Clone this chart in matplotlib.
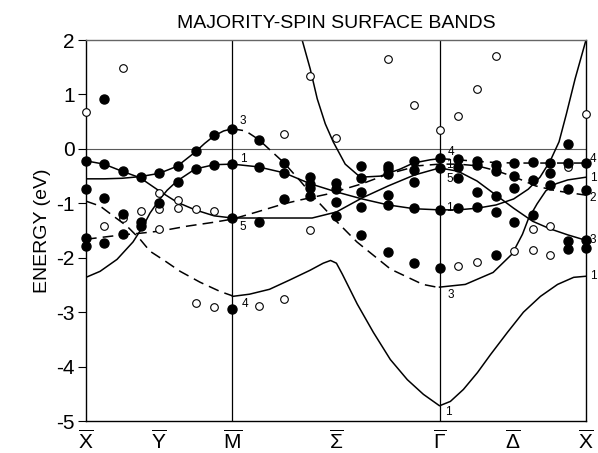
import numpy as np
import matplotlib.pyplot as plt

plt.rcParams['font.family'] = ['Liberation Sans', 'DejaVu Sans']
plt.rcParams['axes.unicode_minus'] = False
plt.rcParams['mathtext.fontset'] = 'custom'
plt.rcParams['mathtext.rm'] = 'Liberation Sans'
plt.rcParams['mathtext.it'] = 'Liberation Sans'

# symmetry points along the path X - M - Gamma - X  (X-M = 1, M-Gamma = sqrt2)
sym_pos = [0.0, 0.5, 1.0, 1.707, 2.414, 2.914, 3.414]
sym_lab = [r'$\overline{\mathrm{X}}$', r'$\overline{\mathrm{Y}}$', r'$\overline{\mathrm{M}}$',
           r'$\overline{\Sigma}$', r'$\overline{\Gamma}$', r'$\overline{\Delta}$',
           r'$\overline{\mathrm{X}}$']

# measured points (filled dots)
fk = [0, 0, 0, 0,
      0.125, 0.125, 0.125, 0.125,
      0.25, 0.25, 0.25,
      0.375, 0.375, 0.375,
      0.5, 0.5,
      0.625, 0.625,
      0.75, 0.75,
      0.875, 0.875,
      1.0, 1.0, 1.0, 1.0,
      1.18, 1.18, 1.18,
      1.35, 1.35, 1.35,
      1.53, 1.53, 1.53, 1.53,
      1.71, 1.71, 1.71, 1.71,
      1.88, 1.88, 1.88, 1.88, 1.88,
      2.06, 2.06, 2.06, 2.06, 2.06, 2.06,
      2.24, 2.24, 2.24, 2.24, 2.24,
      2.414, 2.414, 2.414, 2.414,
      2.54, 2.54, 2.54, 2.54,
      2.67, 2.67, 2.67, 2.67,
      2.80, 2.80, 2.80, 2.80, 2.80,
      2.92, 2.92, 2.92, 2.92,
      3.05, 3.05, 3.05,
      3.17, 3.17, 3.17,
      3.29, 3.29, 3.29, 3.29, 3.29,
      3.414, 3.414, 3.414, 3.414]
fE = [-0.22, -0.73, -1.64, -1.79,
      0.92, -0.28, -0.90, -1.73,
      -0.41, -1.19, -1.57,
      -0.51, -1.34, -1.41,
      -0.45, -0.99,
      -0.32, -0.60,
      -0.03, -0.37,
      0.26, -0.29,
      0.37, -0.27, -1.27, -2.95,
      0.17, -0.34, -1.35,
      -0.25, -0.44, -0.92,
      -0.51, -0.65, -0.72, -0.87,
      -0.63, -0.74, -0.97, -1.23,
      -0.31, -0.53, -0.80, -1.07, -1.58,
      -0.31, -0.37, -0.46, -0.85, -1.03, -1.89,
      -0.23, -0.38, -0.61, -1.09, -2.10,
      -0.17, -0.35, -1.13, -2.19,
      -0.18, -0.34, -0.54, -1.09,
      -0.23, -0.30, -0.80, -1.07,
      -0.29, -0.40, -0.87, -1.16, -1.95,
      -0.26, -0.49, -0.72, -1.34,
      -0.24, -0.57, -1.22,
      -0.26, -0.45, -0.66,
      0.09, -0.26, -0.74, -1.69, -1.84,
      -0.26, -0.75, -1.68, -1.82]

# open circles
ok = [0, 0.25, 0.125, 0.25, 0.375, 0.5, 0.5, 0.5, 0.625, 0.625, 0.75, 0.875,
      0.75, 0.875, 1.18, 1.35, 1.35,
      1.53, 1.53, 1.71, 2.06, 2.24, 2.414, 2.54, 2.67, 2.80,
      2.54, 2.67, 2.92, 3.05, 3.05, 3.17, 3.17, 3.29, 3.414]
oE = [0.68, 1.49, -1.41, -1.27, -1.15, -0.81, -1.10, -1.47, -0.94, -1.09, -1.10, -1.15,
      -2.83, -2.91, -2.89, -2.76, 0.28,
      1.34, -1.49, 0.20, 1.66, 0.81, 0.34, 0.60, 1.10, 1.71,
      -2.15, -2.07, -1.88, -1.48, -1.85, -1.42, -1.95, -0.33, 0.64]

# calculated bands (solid)
s1_k = [0, 0.123, 0.246, 0.369, 0.499, 0.622, 0.745, 0.875, 1.0, 1.176, 1.353, 1.544,
        1.709, 1.886, 2.064, 2.242, 2.414, 2.54, 2.67, 2.80, 2.92, 3.05, 3.17, 3.29, 3.414]
s1_E = [-0.22, -0.28, -0.41, -0.53, -0.77, -0.98, -1.12, -1.23, -1.27, -1.27, -1.27, -1.27,
        -1.16, -0.90, -0.68, -0.48, -0.35, -0.41, -0.59, -0.85, -1.09, -1.33, -1.47, -1.58, -1.68]

s2_k = [0, 0.123, 0.246, 0.369, 0.499, 0.622, 0.745, 0.81, 0.875, 0.94, 1.0]
s2_E = [-0.55, -0.55, -0.54, -0.51, -0.45, -0.32, -0.06, 0.10, 0.24, 0.33, 0.37]

s2b_k = [2.414, 2.59, 2.78, 2.91, 2.98, 3.02, 3.08, 3.14, 3.21, 3.29, 3.414]
s2b_E = [-2.54, -2.49, -2.27, -1.93, -1.57, -1.29, -1.01, -0.77, -0.64, -0.57, -0.52]

s3_k = [0, 0.096, 0.212, 0.321, 0.390, 0.437, 0.499, 0.554, 0.622, 0.745, 0.875, 1.0,
        1.176, 1.353, 1.531, 1.709, 1.886, 2.064, 2.242, 2.414, 2.54, 2.67, 2.80, 2.92,
        3.02, 3.10, 3.17, 3.23, 3.28, 3.34, 3.414]
s3_E = [-2.36, -2.25, -2.03, -1.71, -1.42, -1.18, -0.94, -0.76, -0.59, -0.37, -0.29, -0.28,
        -0.33, -0.44, -0.64, -0.79, -0.92, -1.03, -1.10, -1.12, -1.12, -1.09, -1.03, -0.92,
        -0.74, -0.52, -0.22, 0.13, 0.64, 1.29, 2.0]

s4_k = [1.476, 1.531, 1.579, 1.634, 1.688, 1.770, 1.873, 2.010, 2.146, 2.235, 2.351, 2.414]
s4_E = [2.0, 1.47, 0.92, 0.46, 0.13, -0.28, -0.52, -0.50, -0.37, -0.26, -0.20, -0.18]

s5_k = [1.0, 1.116, 1.253, 1.39, 1.53, 1.62, 1.67, 1.71, 1.75, 1.852, 1.962, 2.078, 2.194,
        2.304, 2.414, 2.488, 2.577, 2.673, 2.762, 2.878, 2.987, 3.103, 3.22, 3.33, 3.414]
s5_E = [-2.71, -2.67, -2.58, -2.41, -2.23, -2.10, -2.05, -2.10, -2.30, -2.85, -3.37, -3.87, -4.24,
        -4.51, -4.72, -4.64, -4.42, -4.11, -3.78, -3.37, -3.00, -2.71, -2.49, -2.36, -2.34]

# calculated bands (dashed)
d1_k = [1.0, 1.09, 1.18, 1.35, 1.46, 1.57, 1.71, 1.85, 2.08, 2.30, 2.414]
d1_E = [0.37, 0.33, 0.17, -0.25, -0.58, -0.93, -1.33, -1.71, -2.21, -2.49, -2.55]

d2_k = [0, 0.096, 0.185, 0.280, 0.369, 0.437, 0.540, 0.643, 0.779, 0.916, 1.0]
d2_E = [-0.96, -1.05, -1.23, -1.42, -1.66, -1.88, -2.06, -2.25, -2.45, -2.62, -2.70]

d3_k = [0, 0.123, 0.246, 0.369, 0.506, 0.690, 0.868, 1.0, 1.166, 1.35, 1.46, 1.65, 1.886,
        2.064, 2.27, 2.414, 2.54, 2.67, 2.80, 2.93, 3.07, 3.21, 3.414]
d3_E = [-1.66, -1.62, -1.58, -1.55, -1.51, -1.42, -1.35, -1.29, -1.16, -1.01, -0.94, -0.83, -0.64,
        -0.46, -0.31, -0.28, -0.28, -0.31, -0.40, -0.52, -0.68, -0.77, -0.85]

d4_k = [2.414, 2.54, 2.67, 2.80, 2.92, 3.05, 3.17, 3.29, 3.414]
d4_E = [-0.18, -0.20, -0.23, -0.25, -0.26, -0.26, -0.26, -0.26, -0.26]

# symmetry labels of the bands
lab_txt = ['3', '1', '5', '4',
           '4', '1', '5', '1', '3', '1',
           '4', '1', '2', '3', '1']
lab_k = [1.05, 1.05, 1.05, 1.06,
         2.47, 2.46, 2.46, 2.46, 2.47, 2.45,
         3.44, 3.44, 3.44, 3.44, 3.44]
lab_E = [0.52, -0.18, -1.44, -2.85,
         -0.06, -0.29, -0.55, -1.09, -2.69, -4.83,
         -0.18, -0.53, -0.90, -1.68, -2.34]

fig = plt.figure(figsize=(5.98, 4.53), dpi=100)
ax = fig.add_axes([0.1438, 0.0706, 0.8361, 0.841])

lw = 1.1
dash = (0, (7, 4))
ax.axhline(0, color='0.35', lw=0.8, zorder=1)
ax.axvline(1.0, color='k', lw=0.9, zorder=1)
ax.axvline(2.414, color='k', lw=0.9, zorder=1)

for kk, ee in [(s1_k, s1_E), (s2_k, s2_E), (s2b_k, s2b_E), (s3_k, s3_E),
               (s4_k, s4_E), (s5_k, s5_E)]:
    ax.plot(kk, ee, color='k', lw=lw, zorder=2)
for kk, ee in [(d1_k, d1_E), (d2_k, d2_E), (d3_k, d3_E), (d4_k, d4_E)]:
    ax.plot(kk, ee, color='k', lw=lw, ls=dash, zorder=2)

ax.plot(fk, fE, 'o', color='k', ms=6.5, zorder=4, clip_on=False)
ax.plot(ok, oE, 'o', mfc='white', mec='k', mew=0.8, ms=5.5, zorder=3, clip_on=False)

for t, kx, ey in zip(lab_txt, lab_k, lab_E):
    ax.text(kx, ey, t, fontsize=8.5, ha='left', va='center', clip_on=False)

ax.set_xlim(0, 3.414)
ax.set_ylim(-5, 2)
ax.set_yticks([2, 1, 0, -1, -2, -3, -4, -5])
ax.set_yticklabels(['2', '1', '0', '-1', '-2', '-3', '-4', '-5'])
ax.tick_params(axis='y', direction='out', length=6, width=0.8, labelsize=15, pad=2)
ax.set_xticks(sym_pos)
ax.set_xticklabels(sym_lab)
ax.tick_params(axis='x', length=0, labelsize=15, pad=6)
for s in ax.spines.values():
    s.set_linewidth(1.0)
ax.spines['top'].set_color('0.4')

ax.set_ylabel('ENERGY (eV)', fontsize=14, labelpad=4)
ax.set_title('MAJORITY-SPIN SURFACE BANDS', fontsize=14, pad=9)

fig.savefig('out.png', dpi=100)
